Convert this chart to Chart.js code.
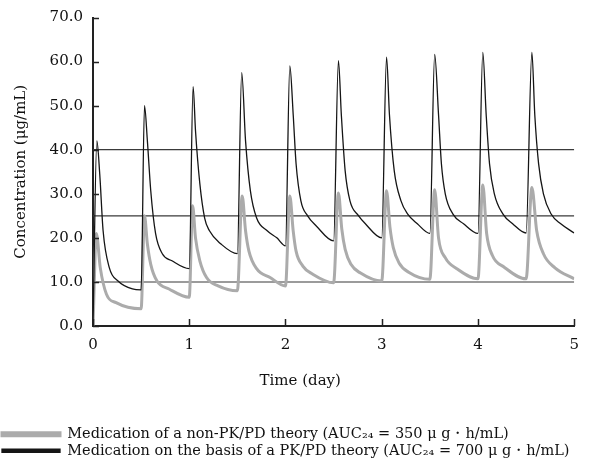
<!DOCTYPE html>
<html>
<head>
<meta charset="utf-8">
<script src="https://cdn.jsdelivr.net/npm/chart.js@4"></script>
<style>
  html, body { margin: 0; padding: 0; background: #fff; }
  #wrap { width: 589px; height: 459px; }
</style>
</head>
<body>
<div id="wrap"><canvas id="pkChart"></canvas></div>
<script>
// Data
// ----------------------------------------------
const xTicks = [0, 1, 2, 3, 4, 5];
const yTicks = [0, 10, 20, 30, 40, 50, 60, 70];
const refLevels = [10, 25, 40];

// PK/PD-based dosing (black)
const pkpdTime = [
    0, 0.04, 0.07, 0.105, 0.17, 0.26, 0.41, 0.5,
    0.535, 0.565, 0.6, 0.65, 0.72, 0.82, 1.0,
    1.04, 1.065, 1.11, 1.16, 1.21, 1.33, 1.5,
    1.545, 1.585, 1.635, 1.7, 1.81, 1.91, 2.0,
    2.045, 2.08, 2.11, 2.16, 2.23, 2.32, 2.5,
    2.55, 2.58, 2.62, 2.67, 2.76, 2.83, 3.0,
    3.05, 3.08, 3.13, 3.2, 3.27, 3.37, 3.5,
    3.55, 3.59, 3.62, 3.66, 3.74, 3.85, 4.0,
    4.05, 4.085, 4.12, 4.17, 4.26, 4.36, 4.5,
    4.56, 4.59, 4.63, 4.68, 4.76, 4.86, 5.0
];
const pkpdConc = [
    0, 42, 34.5, 21.6, 13.2, 10.2, 8.4, 8.2,
    50, 42, 30.7, 21, 16.4, 14.8, 13,
    54.3, 44.3, 32.3, 24.5, 21.6, 18.6, 16.4,
    57.5, 42, 30.7, 24.5, 21.6, 20, 18.2,
    59, 48, 36.8, 28.4, 25, 22.7, 19.3,
    60.2, 48, 35.2, 28.4, 25, 23.2, 20,
    61, 48, 35.2, 28.4, 25.4, 23.2, 21,
    61.6, 48, 36.8, 30, 25.4, 23.2, 21,
    62.1, 48, 36.8, 30, 25.4, 23.2, 21.1,
    62.1, 48, 36.8, 30, 25.4, 23.2, 21.1
];

// non-PK/PD dosing (gray)
const nonTime = [
    0, 0.035, 0.075, 0.14, 0.24, 0.5,
    0.535, 0.565, 0.6, 0.665, 0.79, 1.0,
    1.035, 1.065, 1.11, 1.18, 1.3, 1.5,
    1.55, 1.585, 1.62, 1.7, 1.84, 2.0,
    2.045, 2.08, 2.11, 2.18, 2.28, 2.5,
    2.55, 2.585, 2.62, 2.68, 2.78, 3.0,
    3.05, 3.085, 3.12, 3.18, 3.28, 3.5,
    3.55, 3.59, 3.66, 3.78, 4.0,
    4.05, 4.09, 4.15, 4.27, 4.5,
    4.56, 4.61, 4.68, 4.8, 5.0
];
const nonConc = [
    0, 21, 13.3, 7.2, 5.3, 3.9,
    25, 18.6, 14, 10.2, 8.4, 6.5,
    27.3, 20, 14.8, 11, 9.1, 8,
    29.5, 21.6, 17, 13, 11, 9.1,
    29.5, 21.6, 17, 13.6, 11.8, 9.8,
    30.2, 22, 17.4, 14, 12, 10.2,
    30.7, 22.5, 17.8, 14.3, 12.2, 10.6,
    30.9, 20, 15.5, 13, 10.7,
    32, 21, 16, 13.4, 10.7,
    31.4, 21.6, 16.4, 13.2, 10.7
];

const legendLabels = [
    'Medication of a non-PK/PD theory (AUC\u2082\u2084 = 350 \u03bc g\u30fbh/mL)',
    'Medication on the basis of a PK/PD theory (AUC\u2082\u2084 = 700 \u03bc g\u30fbh/mL)'
];

const serif = 'DejaVu Serif';
const toPoints = (ts, vs) => ts.map((t, i) => ({ x: t, y: vs[i] }));

// Reference lines (10 / 25 / 40)
const refSets = refLevels.map(v => ({
    label: 'ref' + v,
    data: [{ x: 0, y: v }, { x: 5, y: v }],
    borderColor: v === 10 ? '#7a7a7a' : '#3a3a3a',
    borderWidth: v === 10 ? 1.5 : 1.2,
    pointRadius: 0,
    order: 3
}));

// Inward tick marks on both axes
const innerTicks = {
    id: 'innerTicks',
    afterDatasetsDraw(chart) {
        const { ctx, chartArea, scales } = chart;
        ctx.save();
        ctx.strokeStyle = '#222';
        ctx.lineWidth = 1.5;
        ctx.beginPath();
        yTicks.forEach(v => {
            const y = Math.round(scales.y.getPixelForValue(v)) + 0.5;
            ctx.moveTo(chartArea.left, y);
            ctx.lineTo(chartArea.left + 6, y);
        });
        xTicks.forEach(v => {
            const x = Math.round(scales.x.getPixelForValue(v)) + 0.5;
            ctx.moveTo(x, chartArea.bottom);
            ctx.lineTo(x, chartArea.bottom - 7);
        });
        ctx.stroke();
        ctx.restore();
    }
};

new Chart(document.getElementById('pkChart'), {
    type: 'line',
    data: {
        datasets: [
            {
                label: legendLabels[0],
                data: toPoints(nonTime, nonConc),
                borderColor: '#ababab',
                backgroundColor: '#ababab',
                borderWidth: 3,
                pointRadius: 0,
                cubicInterpolationMode: 'monotone',
                order: 2
            },
            {
                label: legendLabels[1],
                data: toPoints(pkpdTime, pkpdConc),
                borderColor: '#151515',
                backgroundColor: '#151515',
                borderWidth: 1.3,
                pointRadius: 0,
                cubicInterpolationMode: 'monotone',
                order: 1
            },
            ...refSets
        ]
    },
    options: {
        responsive: true,
        maintainAspectRatio: false,
        animation: false,
        layout: { padding: { top: 17, right: 5, left: 0, bottom: 0 } },
        plugins: {
            tooltip: { enabled: false },
            legend: {
                position: 'bottom',
                align: 'start',
                maxHeight: 34,
                labels: {
                    filter: item => !item.text.startsWith('ref'),
                    sort: (a, b) => a.datasetIndex - b.datasetIndex,
                    boxWidth: 58,
                    boxHeight: 3,
                    padding: 2,
                    color: '#111',
                    font: { family: serif, size: 14.5 }
                }
            }
        },
        scales: {
            x: {
                type: 'linear',
                min: 0,
                max: 5,
                afterBuildTicks: s => { s.ticks = xTicks.map(v => ({ value: v })); },
                grid: { drawOnChartArea: false, drawTicks: false },
                border: { color: '#222', width: 2 },
                ticks: {
                    padding: 10,
                    color: '#111',
                    font: { family: serif, size: 15 }
                },
                title: {
                    display: true,
                    text: 'Time (day)              ',
                    color: '#111',
                    font: { family: serif, size: 15 },
                    padding: { top: 8, bottom: 35 }
                }
            },
            y: {
                min: 0,
                max: 70,
                afterBuildTicks: s => { s.ticks = yTicks.map(v => ({ value: v })); },
                afterFit: s => { s.width = 93; },
                grid: { drawOnChartArea: false, drawTicks: false },
                border: { color: '#222', width: 2 },
                ticks: {
                    padding: 10,
                    color: '#111',
                    font: { family: serif, size: 15, lineHeight: 1 },
                    callback: v => v.toFixed(1)
                },
                title: {
                    display: true,
                    text: 'Concentration (\u03bcg/mL)',
                    color: '#111',
                    font: { family: serif, size: 15 },
                    padding: { top: 12, bottom: 0 }
                }
            }
        }
    },
    plugins: [innerTicks]
});
</script>
</body>
</html>
